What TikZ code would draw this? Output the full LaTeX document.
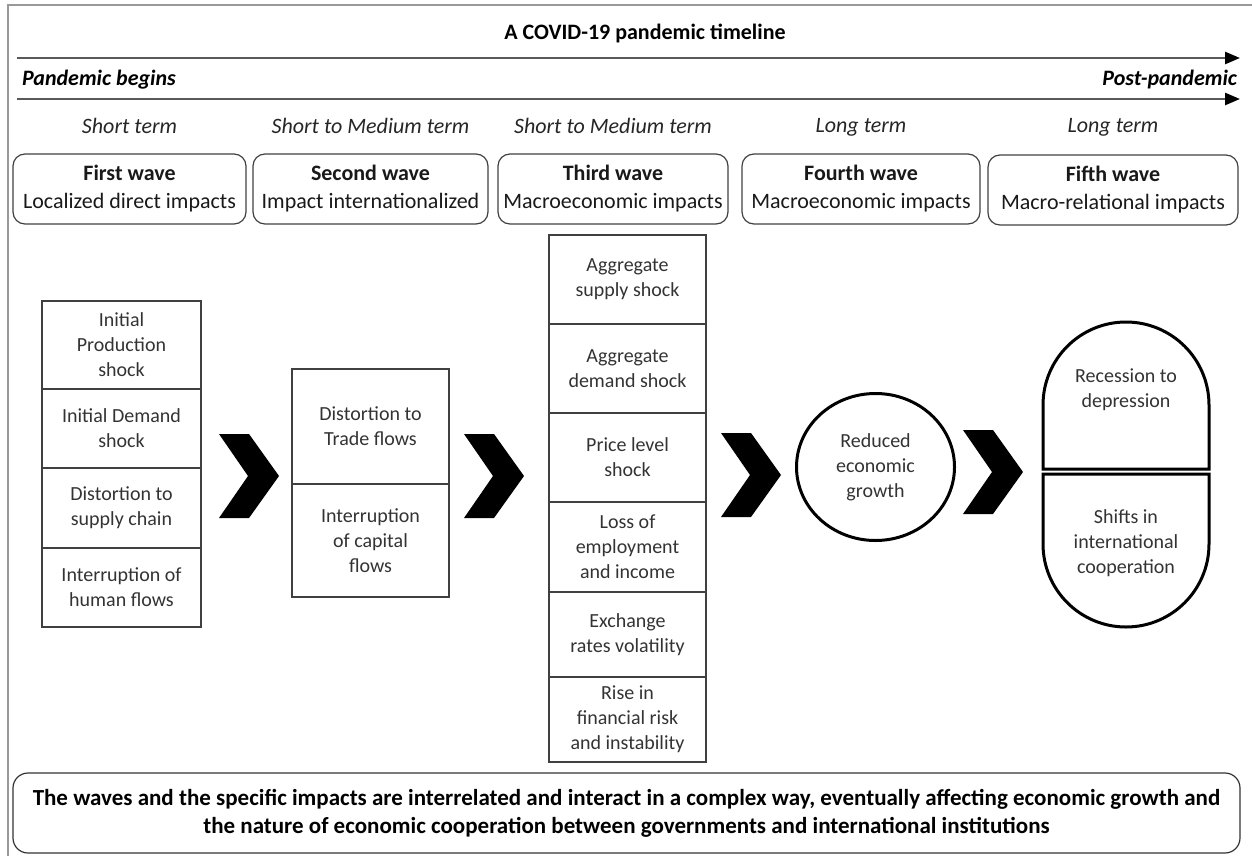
\documentclass[tikz,border=0pt]{standalone}
\usepackage{fontspec}
\setmainfont{Carlito}
\usetikzlibrary{arrows.meta,shapes.geometric}
\newcommand\chevat[2]{\fill[black] (#1,#2) ++(0,-42) -- ++(30,0) -- ++(30,42) -- ++(-30,42) -- ++(-30,0) -- ++(29,-42) -- cycle;}
\begin{document}
\begin{tikzpicture}[x=1pt,y=-1pt,
  every node/.style={inner sep=0pt, outer sep=0pt},
  tline/.style={draw=black!65, line width=2.5pt, -{Triangle[length=15pt,width=12pt,color=black]}},
  term/.style={font=\itshape\fontsize{22}{26}\selectfont, text=black!85},
  wave/.style={draw=black!75, line width=1.2pt, rounded corners=12pt, align=center,
    minimum height=70pt, font=\fontsize{22}{28}\selectfont, text=black!90},
  cell/.style={draw=black!75, line width=1.5pt, align=center,
    font=\fontsize{20}{25}\selectfont, text=black!80},
  round/.style={draw=black, line width=3pt},
  rtxt/.style={align=center, font=\fontsize{20}{25}\selectfont, text=black!80}
]
\useasboundingbox (0,0) rectangle (1252,856);
% outer frame
\draw[black!40, line width=2pt] (8,870) -- (8,5) -- (1260,5);
% title and timelines
\node[font=\bfseries\fontsize{22}{26}\selectfont] (title) at (645,33) {A COVID-19 pandemic timeline};
\coordinate (a1s) at (17,58); \coordinate (a1e) at (1240,58);
\coordinate (a2s) at (17,99); \coordinate (a2e) at (1240,99);
\draw[tline] (a1s) -- (a1e);
\draw[tline] (a2s) -- (a2e);
\node[anchor=west, font=\bfseries\itshape\fontsize{22}{26}\selectfont] (pb) at (22,80) {Pandemic begins};
\node[anchor=east, font=\bfseries\itshape\fontsize{22}{26}\selectfont] (pp) at (1237,80) {Post-pandemic};
% term labels
\node[term] (t1) at (129.5,126) {Short term};
\node[term] (t2) at (370.5,126) {Short to Medium term};
\node[term] (t3) at (613,126) {Short to Medium term};
\node[term] (t4) at (861,127) {Long term};
\node[term] (t5) at (1113,127) {Long term};
% wave boxes
\node[wave, minimum width=233pt] (w1) at (129.5,189) {\textbf{First wave}\\Localized direct impacts};
\node[wave, minimum width=235pt] (w2) at (370.5,189) {\textbf{Second wave}\\Impact internationalized};
\node[wave, minimum width=230pt] (w3) at (613,189) {\textbf{Third wave}\\Macroeconomic impacts};
\node[wave, minimum width=238pt] (w4) at (861,189) {\textbf{Fourth wave}\\Macroeconomic impacts};
\node[wave, minimum width=250pt] (w5) at (1113,190) {\textbf{Fifth wave}\\Macro-relational impacts};
% column 1
\node[cell, minimum width=159pt, minimum height=88pt] (c11) at (121.5,345) {Initial\\Production\\shock};
\node[cell, minimum width=159pt, minimum height=79pt] (c12) at (121.5,428.5) {Initial Demand\\shock};
\node[cell, minimum width=159pt, minimum height=80pt] (c13) at (121.5,508) {Distortion to\\supply chain};
\node[cell, minimum width=159pt, minimum height=79pt] (c14) at (121.5,587.5) {Interruption of\\human flows};
% column 2
\node[cell, minimum width=157pt, minimum height=115pt] (c21) at (370.5,426.5) {Distortion to\\Trade flows};
\node[cell, minimum width=157pt, minimum height=113pt] (c22) at (370.5,540.5) {Interruption\\of capital\\flows};
% column 3
\node[cell, minimum width=157pt, minimum height=89pt] (c31) at (627.5,279.5) {Aggregate\\supply shock};
\node[cell, minimum width=157pt, minimum height=89pt] (c32) at (627.5,368.5) {Aggregate\\demand shock};
\node[cell, minimum width=157pt, minimum height=89pt] (c33) at (627.5,457.5) {Price level\\shock};
\node[cell, minimum width=157pt, minimum height=90pt] (c34) at (627.5,547) {Loss of\\employment\\and income};
\node[cell, minimum width=157pt, minimum height=85pt] (c35) at (627.5,634.5) {Exchange\\rates volatility};
\node[cell, minimum width=157pt, minimum height=85pt] (c36) at (627.5,719.5) {Rise in\\financial risk\\and instability};
% circle
\node[round, ellipse, minimum width=158pt, minimum height=147pt, rtxt] (grow) at (875.5,467) {Reduced\\economic\\growth};
% pill
\draw[round] (1043,469) -- (1043,405) arc[start angle=180, end angle=0, radius=83pt] -- (1209,469) -- cycle;
\draw[round] (1043,474) -- (1043,544) arc[start angle=180, end angle=360, radius=83pt] -- (1209,474) -- cycle;
\node[rtxt] (rec) at (1126,390) {Recession to\\depression};
\node[rtxt] (shi) at (1126,543) {Shifts in\\international\\cooperation};
% chevrons
\chevat{219}{476}
\chevat{464}{476}
\chevat{721}{475}
\chevat{963}{472}
% bottom note
\node[draw=black!80, line width=1.2pt, rounded corners=15pt, minimum width=1227pt, minimum height=80pt,
  align=center, font=\bfseries\fontsize{23}{28}\selectfont] (note) at (626.5,813)
  {The waves and the specific impacts are interrelated and interact in a complex way, eventually affecting economic growth and\\the nature of economic cooperation between governments and international institutions};
\end{tikzpicture}
\end{document}
